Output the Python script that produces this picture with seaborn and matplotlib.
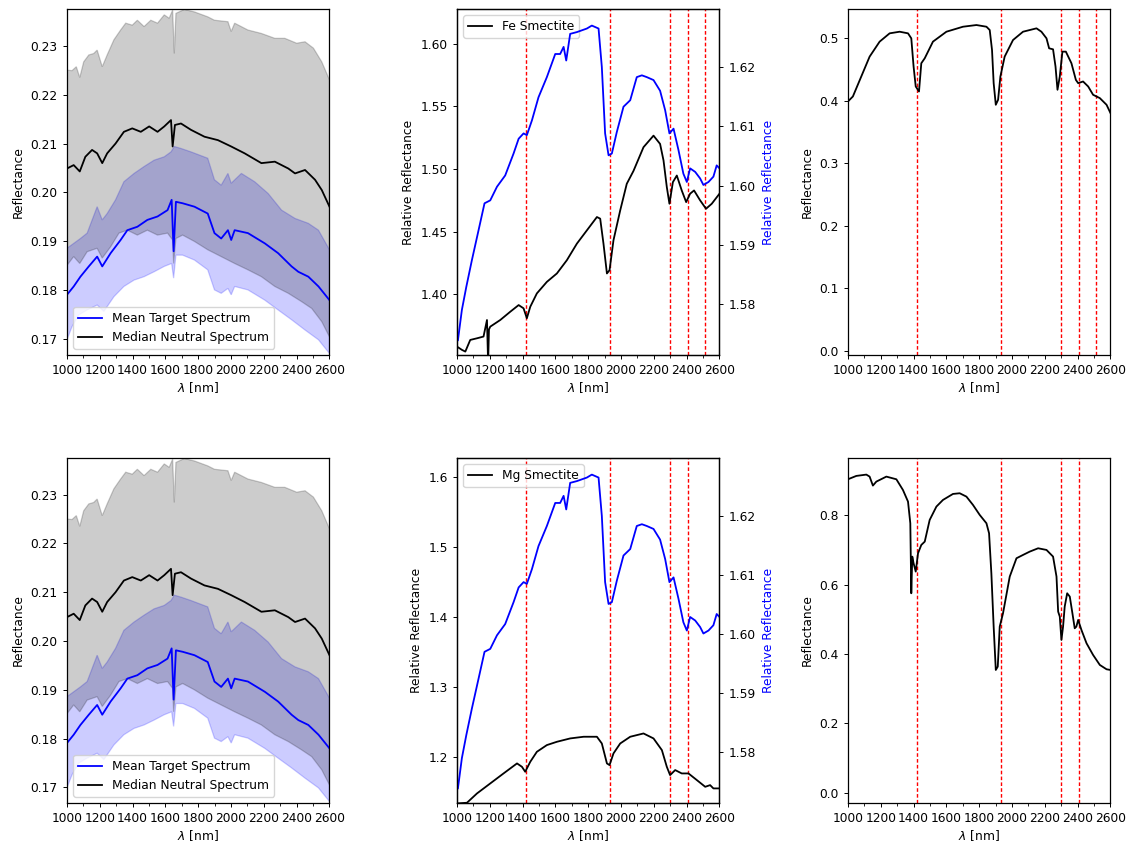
import numpy as np
import matplotlib
matplotlib.use("Agg")
import matplotlib.pyplot as plt
from matplotlib.ticker import MultipleLocator
import seaborn as sns

# ---------------- data ----------------
# Left panels (neutral / target spectra statistics)
gray_up_x = [1000, 1031, 1057, 1078, 1102, 1133, 1163, 1184, 1215, 1245, 1286, 1327, 1358, 1398, 1429,
             1470, 1511, 1552, 1593, 1623, 1644, 1654, 1664, 1715, 1777, 1858, 1899, 1981, 2001, 2022,
             2103, 2185, 2267, 2328, 2400, 2451, 2502, 2553, 2600]
gray_up_y = [0.2250, 0.2249, 0.2257, 0.2235, 0.2267, 0.2281, 0.2284, 0.2291, 0.2257, 0.2281, 0.2312,
             0.2332, 0.2346, 0.2342, 0.2352, 0.2339, 0.2352, 0.2346, 0.2363, 0.2356, 0.2373, 0.2284,
             0.2366, 0.2374, 0.2369, 0.2359, 0.2352, 0.2349, 0.2329, 0.2346, 0.2332, 0.2325, 0.2315,
             0.2315, 0.2305, 0.2308, 0.2295, 0.2267, 0.2230]
gray_lo_x = [1000, 1041, 1078, 1123, 1184, 1215, 1266, 1317, 1368, 1429, 1490, 1552, 1613, 1644, 1650,
             1664, 1705, 1777, 1858, 1940, 2022, 2103, 2185, 2267, 2349, 2430, 2492, 2553, 2600]
gray_lo_y = [0.1851, 0.1869, 0.1855, 0.1879, 0.1886, 0.1866, 0.1889, 0.1917, 0.1923, 0.1913, 0.1923,
             0.1913, 0.1917, 0.1903, 0.1855, 0.1906, 0.1913, 0.1900, 0.1883, 0.1869, 0.1855, 0.1842,
             0.1828, 0.1808, 0.1794, 0.1777, 0.1763, 0.1736, 0.1705]
median_x = [1000, 1041, 1078, 1112, 1153, 1184, 1215, 1245, 1296, 1347, 1398, 1450, 1501, 1552, 1593,
            1634, 1644, 1658, 1695, 1756, 1838, 1920, 2001, 2083, 2185, 2267, 2349, 2390, 2451, 2512,
            2553, 2600]
median_y = [0.2049, 0.2056, 0.2043, 0.2073, 0.2087, 0.2080, 0.2060, 0.2080, 0.2100, 0.2124, 0.2131,
            0.2124, 0.2135, 0.2124, 0.2135, 0.2148, 0.2094, 0.2138, 0.2141, 0.2128, 0.2114, 0.2107,
            0.2094, 0.2080, 0.2060, 0.2063, 0.2049, 0.2039, 0.2046, 0.2026, 0.2005, 0.1971]
blue_up_x = [1000, 1041, 1082, 1123, 1184, 1215, 1245, 1296, 1347, 1409, 1470, 1531, 1593, 1634, 1654,
             1695, 1756, 1858, 1899, 1940, 1981, 2001, 2063, 2144, 2226, 2308, 2390, 2471, 2533, 2600]
blue_up_y = [0.1886, 0.1896, 0.1906, 0.1917, 0.1971, 0.1944, 0.1957, 0.1985, 0.2022, 0.2039, 0.2053,
             0.2066, 0.2073, 0.2083, 0.2094, 0.2090, 0.2083, 0.2070, 0.2026, 0.2015, 0.2039, 0.2019,
             0.2039, 0.2022, 0.1998, 0.1964, 0.1947, 0.1937, 0.1923, 0.1883]
blue_lo_x = [1000, 1031, 1072, 1123, 1184, 1225, 1286, 1347, 1409, 1470, 1531, 1593, 1638, 1650, 1664,
             1705, 1777, 1858, 1899, 1940, 1981, 2001, 2022, 2103, 2206, 2287, 2369, 2451, 2533, 2600]
blue_lo_y = [0.1699, 0.1726, 0.1750, 0.1760, 0.1770, 0.1757, 0.1787, 0.1808, 0.1821, 0.1828, 0.1838,
             0.1849, 0.1855, 0.1825, 0.1872, 0.1872, 0.1862, 0.1842, 0.1801, 0.1794, 0.1804, 0.1791,
             0.1808, 0.1801, 0.1780, 0.1760, 0.1740, 0.1719, 0.1699, 0.1671]
mean_x = [1000, 1041, 1082, 1133, 1184, 1215, 1266, 1327, 1368, 1429, 1490, 1552, 1613, 1638, 1650,
          1664, 1705, 1777, 1858, 1899, 1940, 1981, 2001, 2022, 2103, 2206, 2287, 2369, 2410, 2471,
          2533, 2600]
mean_y = [0.1791, 0.1808, 0.1828, 0.1849, 0.1869, 0.1849, 0.1876, 0.1903, 0.1923, 0.1930, 0.1944,
          0.1951, 0.1964, 0.1985, 0.1880, 0.1981, 0.1978, 0.1971, 0.1957, 0.1917, 0.1906, 0.1923,
          0.1903, 0.1923, 0.1917, 0.1896, 0.1876, 0.1849, 0.1838, 0.1828, 0.1808, 0.1780]

# Middle panels: target ratio (blue, right axis, same in both rows)
ratio_x = [1006, 1030, 1057, 1091, 1132, 1168, 1203, 1244, 1294, 1345, 1376, 1406, 1426, 1457, 1497,
           1548, 1599, 1629, 1650, 1666, 1690, 1731, 1792, 1822, 1863, 1883, 1903, 1924, 1944, 1974,
           2015, 2056, 2096, 2127, 2157, 2198, 2238, 2269, 2295, 2320, 2350, 2380, 2401, 2421, 2452,
           2482, 2502, 2533, 2563, 2583, 2600]
ratio_y = [1.5739, 1.5790, 1.5829, 1.5874, 1.5925, 1.5970, 1.5975, 1.5998, 1.6017, 1.6054, 1.6079,
           1.6088, 1.6085, 1.6110, 1.6149, 1.6183, 1.6222, 1.6222, 1.6234, 1.6211, 1.6256, 1.6259,
           1.6265, 1.6270, 1.6265, 1.6200, 1.6088, 1.6051, 1.6054, 1.6090, 1.6133, 1.6144, 1.6183,
           1.6186, 1.6183, 1.6178, 1.6160, 1.6127, 1.6088, 1.6096, 1.6060, 1.6020, 1.6006, 1.6029,
           1.6023, 1.6012, 1.6001, 1.6006, 1.6015, 1.6034, 1.6029]

# Fe smectite library (relative reflectance, left axis, top middle)
fe_rel_x = [1000, 1030, 1051, 1081, 1122, 1162, 1183, 1190, 1195, 1203, 1264, 1325, 1376, 1406, 1426,
            1447, 1487, 1548, 1609, 1670, 1731, 1792, 1853, 1873, 1893, 1914, 1930, 1954, 1995, 2035,
            2076, 2137, 2198, 2238, 2259, 2279, 2295, 2316, 2340, 2370, 2397, 2421, 2445, 2482, 2518,
            2553, 2600]
fe_rel_y = [1.3584, 1.3558, 1.3544, 1.3637, 1.3650, 1.3664, 1.3796, 1.3450, 1.3720, 1.3743, 1.3796,
            1.3862, 1.3915, 1.3889, 1.3810, 1.3902, 1.4008, 1.4100, 1.4167, 1.4273, 1.4405, 1.4511,
            1.4617, 1.4604, 1.4405, 1.4167, 1.4193, 1.4432, 1.4670, 1.4882, 1.4985, 1.5174, 1.5266,
            1.5200, 1.5068, 1.4856, 1.4723, 1.4895, 1.4948, 1.4829, 1.4736, 1.4803, 1.4829, 1.4750,
            1.4683, 1.4723, 1.4803]

# Mg smectite library (relative reflectance, left axis, bottom middle)
mg_rel_x = [1000, 1061, 1122, 1203, 1284, 1366, 1396, 1416, 1447, 1487, 1548, 1609, 1690, 1772, 1853,
            1883, 1914, 1930, 1954, 1995, 2056, 2137, 2198, 2249, 2279, 2299, 2330, 2370, 2411, 2462,
            2513, 2543, 2563, 2600]
mg_rel_y = [1.1333, 1.1343, 1.1476, 1.1619, 1.1762, 1.1905, 1.1857, 1.1786, 1.1929, 1.2071, 1.2167,
            1.2214, 1.2262, 1.2286, 1.2286, 1.2190, 1.1905, 1.1881, 1.2048, 1.2190, 1.2286, 1.2333,
            1.2262, 1.2095, 1.1857, 1.1738, 1.1810, 1.1762, 1.1762, 1.1667, 1.1571, 1.1595, 1.1548,
            1.1548]

# Right panels: library reflectance
fe_ref_x = [1000, 1030, 1081, 1132, 1193, 1254, 1315, 1366, 1386, 1400, 1413, 1433, 1447, 1468, 1518,
            1600, 1701, 1783, 1844, 1864, 1878, 1888, 1901, 1915, 1929, 1955, 2006, 2067, 2149, 2179,
            2210, 2226, 2250, 2265, 2277, 2291, 2307, 2328, 2362, 2389, 2403, 2433, 2464, 2494, 2535,
            2576, 2600]
fe_ref_y = [0.3989, 0.4069, 0.4388, 0.4707, 0.4947, 0.5080, 0.5106, 0.5080, 0.5000, 0.4548, 0.4229,
            0.4149, 0.4601, 0.4681, 0.4947, 0.5106, 0.5186, 0.5213, 0.5186, 0.5133, 0.4814, 0.4282,
            0.3936, 0.4016, 0.4388, 0.4707, 0.4973, 0.5106, 0.5160, 0.5106, 0.5000, 0.4840, 0.4824,
            0.4548, 0.4176, 0.4388, 0.4787, 0.4787, 0.4601, 0.4335, 0.4282, 0.4309, 0.4229, 0.4096,
            0.4043, 0.3936, 0.3803]
mg_ref_x = [1000, 1051, 1112, 1132, 1152, 1173, 1234, 1295, 1335, 1366, 1380, 1386, 1392, 1400, 1413,
            1427, 1447, 1468, 1498, 1539, 1579, 1640, 1681, 1722, 1762, 1803, 1844, 1860, 1874, 1888,
            1901, 1913, 1925, 1945, 1986, 2027, 2067, 2108, 2159, 2210, 2250, 2271, 2281, 2291, 2301,
            2311, 2321, 2336, 2352, 2368, 2382, 2392, 2403, 2423, 2454, 2494, 2535, 2576, 2600]
mg_ref_y = [0.9038, 0.9135, 0.9173, 0.9115, 0.8856, 0.8971, 0.9115, 0.9038, 0.8731, 0.8394, 0.7769,
            0.5750, 0.6808, 0.6615, 0.6375, 0.6904, 0.7144, 0.7240, 0.7865, 0.8250, 0.8442, 0.8615,
            0.8635, 0.8538, 0.8298, 0.8010, 0.7769, 0.7481, 0.6327, 0.4788, 0.3538, 0.3635, 0.4788,
            0.5173, 0.6231, 0.6760, 0.6856, 0.6952, 0.7048, 0.7000, 0.6808, 0.6231, 0.5221, 0.5077,
            0.4404, 0.4788, 0.5365, 0.5750, 0.5654, 0.5173, 0.4740, 0.4788, 0.4981, 0.4692, 0.4308,
            0.3971, 0.3683, 0.3558, 0.3538]

# Absorption band markers
fe_bands = [1420, 1930, 2300, 2410, 2510]
mg_bands = [1420, 1930, 2300, 2410]

xticks = [1000, 1200, 1400, 1600, 1800, 2000, 2200, 2400, 2600]

# ---------------- figure ----------------
plt.rcParams['font.family'] = ['DejaVu Sans']
plt.rcParams['font.size'] = 8.8
plt.rcParams['axes.linewidth'] = 0.9
plt.rcParams['xtick.major.size'] = 3.1
plt.rcParams['ytick.major.size'] = 3.1
plt.rcParams['xtick.minor.size'] = 1.8
plt.rcParams['xtick.major.width'] = 0.7
plt.rcParams['ytick.major.width'] = 0.7
plt.rcParams['xtick.minor.width'] = 0.6
fig = plt.figure(figsize=(11.35, 8.47), dpi=100)

colx = [0.0590, 0.4026, 0.7471]
w = 0.2313
rows = [(0.5809, 0.4085), (0.0519, 0.4073)]
LW = 1.3
RED_LS = (0, (2.6, 1.6))


def style_x(ax):
    ax.set_xlim(1000, 2600)
    ax.set_xticks(xticks)
    ax.xaxis.set_minor_locator(MultipleLocator(100))
    ax.set_xlabel(r'$\lambda$ [nm]', labelpad=2)


def band_poly(ax, xu, yu, xl, yl, color):
    px = np.concatenate([np.asarray(xu), np.asarray(xl)[::-1]])
    py = np.concatenate([np.asarray(yu), np.asarray(yl)[::-1]])
    ax.fill(px, py, color=color, alpha=0.2, lw=0.9)


for r, (yb, h) in enumerate(rows):
    # --- left panel
    ax = fig.add_axes([colx[0], yb, w, h])
    band_poly(ax, blue_up_x, blue_up_y, blue_lo_x, blue_lo_y, 'blue')
    band_poly(ax, gray_up_x, gray_up_y, gray_lo_x, gray_lo_y, 'black')
    sns.lineplot(x=mean_x, y=mean_y, ax=ax, color='blue', lw=LW, estimator=None,
                 label='Mean Target Spectrum')
    sns.lineplot(x=median_x, y=median_y, ax=ax, color='black', lw=LW, estimator=None,
                 label='Median Neutral Spectrum')
    style_x(ax)
    ax.set_ylim(0.1668, 0.2375)
    ax.set_yticks([0.17, 0.18, 0.19, 0.20, 0.21, 0.22, 0.23])
    ax.set_ylabel('Reflectance')
    ax.legend(loc='lower left')

    # --- middle panel
    axm = fig.add_axes([colx[1], yb, w, h])
    bands = fe_bands if r == 0 else mg_bands
    for b in bands:
        axm.axvline(b, color='red', ls=RED_LS, lw=1)
    if r == 0:
        sns.lineplot(x=fe_rel_x, y=fe_rel_y, ax=axm, color='black', lw=LW, estimator=None,
                     label='Fe Smectite')
        axm.set_ylim(1.3517, 1.6276)
        axm.set_yticks([1.40, 1.45, 1.50, 1.55, 1.60])
        axm.set_yticklabels(['1.40', '1.45', '1.50', '1.55', '1.60'])
    else:
        sns.lineplot(x=mg_rel_x, y=mg_rel_y, ax=axm, color='black', lw=LW, estimator=None,
                     label='Mg Smectite')
        axm.set_ylim(1.1339, 1.6267)
        axm.set_yticks([1.2, 1.3, 1.4, 1.5, 1.6])
    style_x(axm)
    axm.set_ylabel('Relative Reflectance')
    axm.legend(loc='upper left')
    ax2 = axm.twinx()
    sns.lineplot(x=ratio_x, y=ratio_y, ax=ax2, color='blue', lw=LW, estimator=None)
    ax2.set_ylim(1.5714, 1.6298)
    ax2.set_yticks([1.58, 1.59, 1.60, 1.61, 1.62])
    ax2.set_yticklabels(['1.58', '1.59', '1.60', '1.61', '1.62'])
    ax2.set_ylabel('Relative Reflectance', color='blue')
    ax2.set_xlim(1000, 2600)

    # --- right panel
    axr = fig.add_axes([colx[2], yb, w, h])
    for b in bands:
        axr.axvline(b, color='red', ls=RED_LS, lw=1)
    if r == 0:
        sns.lineplot(x=fe_ref_x, y=fe_ref_y, ax=axr, color='black', lw=LW, estimator=None)
        axr.set_ylim(-0.007, 0.547)
        axr.set_yticks([0.0, 0.1, 0.2, 0.3, 0.4, 0.5])
    else:
        sns.lineplot(x=mg_ref_x, y=mg_ref_y, ax=axr, color='black', lw=LW, estimator=None)
        axr.set_ylim(-0.03, 0.965)
        axr.set_yticks([0.0, 0.2, 0.4, 0.6, 0.8])
    style_x(axr)
    axr.set_ylabel('Reflectance')

fig.savefig('out.png', dpi=100)
